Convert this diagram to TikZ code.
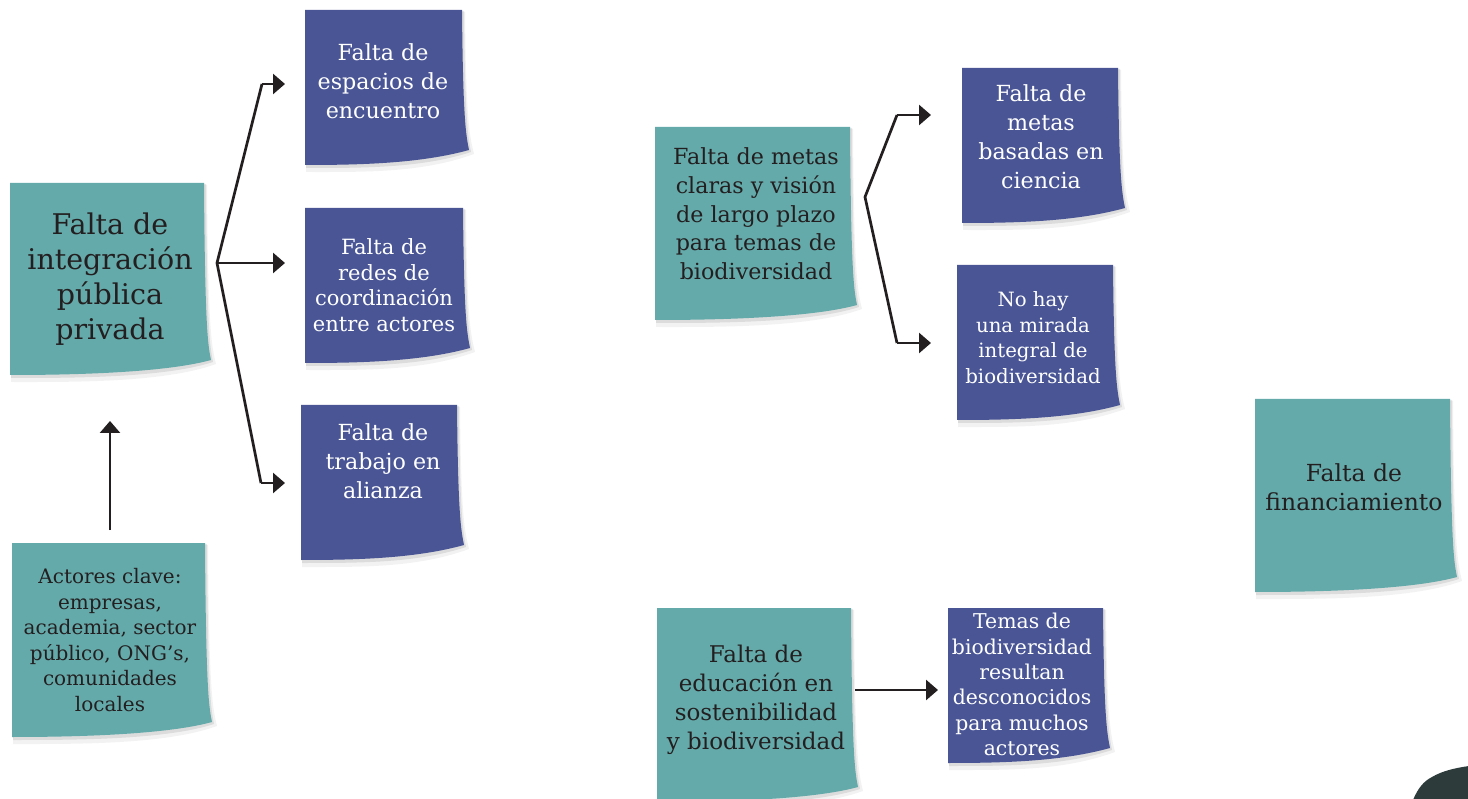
\documentclass[tikz,border=0pt]{standalone}
\usepackage{fontspec}
\setmainfont{DejaVu Serif}
\usetikzlibrary{arrows.meta}
\definecolor{notegreen}{RGB}{101,170,170}
\definecolor{noteblue}{RGB}{74,85,150}
\definecolor{inkc}{RGB}{35,31,32}
\definecolor{blobc}{RGB}{46,59,59}
\newcommand\stickynote[5]{%
  \fill[black,opacity=0.05] ({#1+1},{#2+2}) -- ({#3+3},{#2+2}) .. controls ({#3+4},{#4-40}) and ({#3+8},{#4-28}) .. ({#3+12},{#4-11}) .. controls ({#3-40},{#4+8}) and ({#1+60},{#4+7}) .. ({#1+1},{#4+7}) -- cycle;
  \fill[black,opacity=0.09] ({#1+1},{#2+1}) -- ({#3+2},{#2+1}) .. controls ({#3+3},{#4-42}) and ({#3+6},{#4-29}) .. ({#3+9},{#4-13}) .. controls ({#3-40},{#4+3}) and ({#1+60},{#4+3}) .. ({#1+1},{#4+3}) -- cycle;
  \fill[#5] (#1,#2) -- (#3,#2) .. controls ({#3+1},{#4-45}) and ({#3+4},{#4-30}) .. ({#3+7},{#4-15}) .. controls ({#3-40},{#4-2}) and ({#1+60},{#4}) .. (#1,#4) -- cycle;
}
\tikzset{
  arr/.style={line width=2.7pt, draw=inkc, -{Triangle[length=12pt,width=20pt]}},
  line/.style={line width=2.7pt, draw=inkc, line join=miter},
  dk/.style={text=inkc, align=center, inner sep=0pt},
  wt/.style={text=white, align=center, inner sep=0pt},
  sA/.style={font=\fontsize{20}{25.5}\selectfont},
  sB/.style={font=\fontsize{22.2}{29}\selectfont},
  sC/.style={font=\fontsize{22.5}{28.7}\selectfont},
  sD/.style={font=\fontsize{28.5}{35}\selectfont},
}
\begin{document}
\begin{tikzpicture}[x=1pt,y=-1pt]
\useasboundingbox (0,0) rectangle (1468,799);
\clip (0,0) rectangle (1468,799);
\fill[white] (0,0) rectangle (1468,799);

% sticky notes
\stickynote{10}{183}{204}{375}{notegreen}
\stickynote{305}{10}{462}{165}{noteblue}
\stickynote{305}{208}{463}{363}{noteblue}
\stickynote{301}{405}{457}{560}{noteblue}
\stickynote{12}{543}{205}{737}{notegreen}
\stickynote{655}{127}{850}{320}{notegreen}
\stickynote{962}{68}{1118}{223}{noteblue}
\stickynote{957}{265}{1113}{420}{noteblue}
\stickynote{1255}{399}{1450}{592}{notegreen}
\stickynote{657}{608}{851}{802}{notegreen}
\stickynote{948}{608}{1103}{763}{noteblue}

% texts
\node[dk,sD] (integ) at (110,279) {Falta de\\integración\\pública\\privada};
\node[wt,sB] (espacios) at (383,81) {Falta de\\espacios de\\encuentro};
\node[wt,sA,font=\fontsize{21}{25.5}\selectfont] (redes) at (384,285) {Falta de\\redes de\\coordinación\\entre actores};
\node[wt,sB] (trabajo) at (383,461) {Falta de\\trabajo en\\alianza};
\node[dk,sA] (actores) at (110,640) {Actores clave:\\empresas,\\academia, sector\\público, ONG’s,\\comunidades\\locales};
\node[dk,sC,font=\fontsize{22.2}{28.7}\selectfont] (metas) at (756,214) {Falta de metas\\claras y visión\\de largo plazo\\para temas de\\biodiversidad};
\node[wt,sB] (ciencia) at (1041,137) {Falta de\\metas\\basadas en\\ciencia};
\node[wt,sA,font=\fontsize{19.7}{25.5}\selectfont] (mirada) at (1033,337.5) {No hay\\una mirada\\integral de\\biodiversidad};
\node[dk,sB,font=\fontsize{23.5}{29}\selectfont] (financ) at (1354,487.5) {Falta de\\financiamiento};
\node[dk,sC,font=\fontsize{23}{29}\selectfont] (educ) at (756,699.5) {Falta de\\educación en\\sostenibilidad\\y biodiversidad};
\node[wt,sA,font=\fontsize{20.4}{25.4}\selectfont] (temas) at (1022,684.5) {Temas de\\biodiversidad\\resultan\\desconocidos\\para muchos\\actores};

% connector coordinates
\coordinate (j1) at (217,263);
\coordinate (e1a) at (262,84);
\coordinate (t1a) at (285,84);
\coordinate (t1b) at (285,263);
\coordinate (e1c) at (261,483);
\coordinate (t1c) at (285,483);
\coordinate (upS) at (110,530);
\coordinate (upT) at (110,421);
\coordinate (j2) at (865,197);
\coordinate (e2a) at (897,115);
\coordinate (t2a) at (931,115);
\coordinate (e2b) at (897,343);
\coordinate (t2b) at (931,343);
\coordinate (hS) at (855,690);
\coordinate (hT) at (938,690);

\draw[line] (e1a) -- (j1) -- (e1c);
\draw[arr] (e1a) -- (t1a);
\draw[arr] (j1) -- (t1b);
\draw[arr] (e1c) -- (t1c);
\draw[arr] (upS) -- (upT);
\draw[line] (e2a) -- (j2) -- (e2b);
\draw[arr] (e2a) -- (t2a);
\draw[arr] (e2b) -- (t2b);
\draw[arr] (hS) -- (hT);

% dark shape at bottom right
\fill[blobc] (1413,800) .. controls (1418,788) and (1424,781) .. (1432,777) .. controls (1442,771) and (1455,768) .. (1469,766) -- (1469,800) -- cycle;
\end{tikzpicture}
\end{document}
